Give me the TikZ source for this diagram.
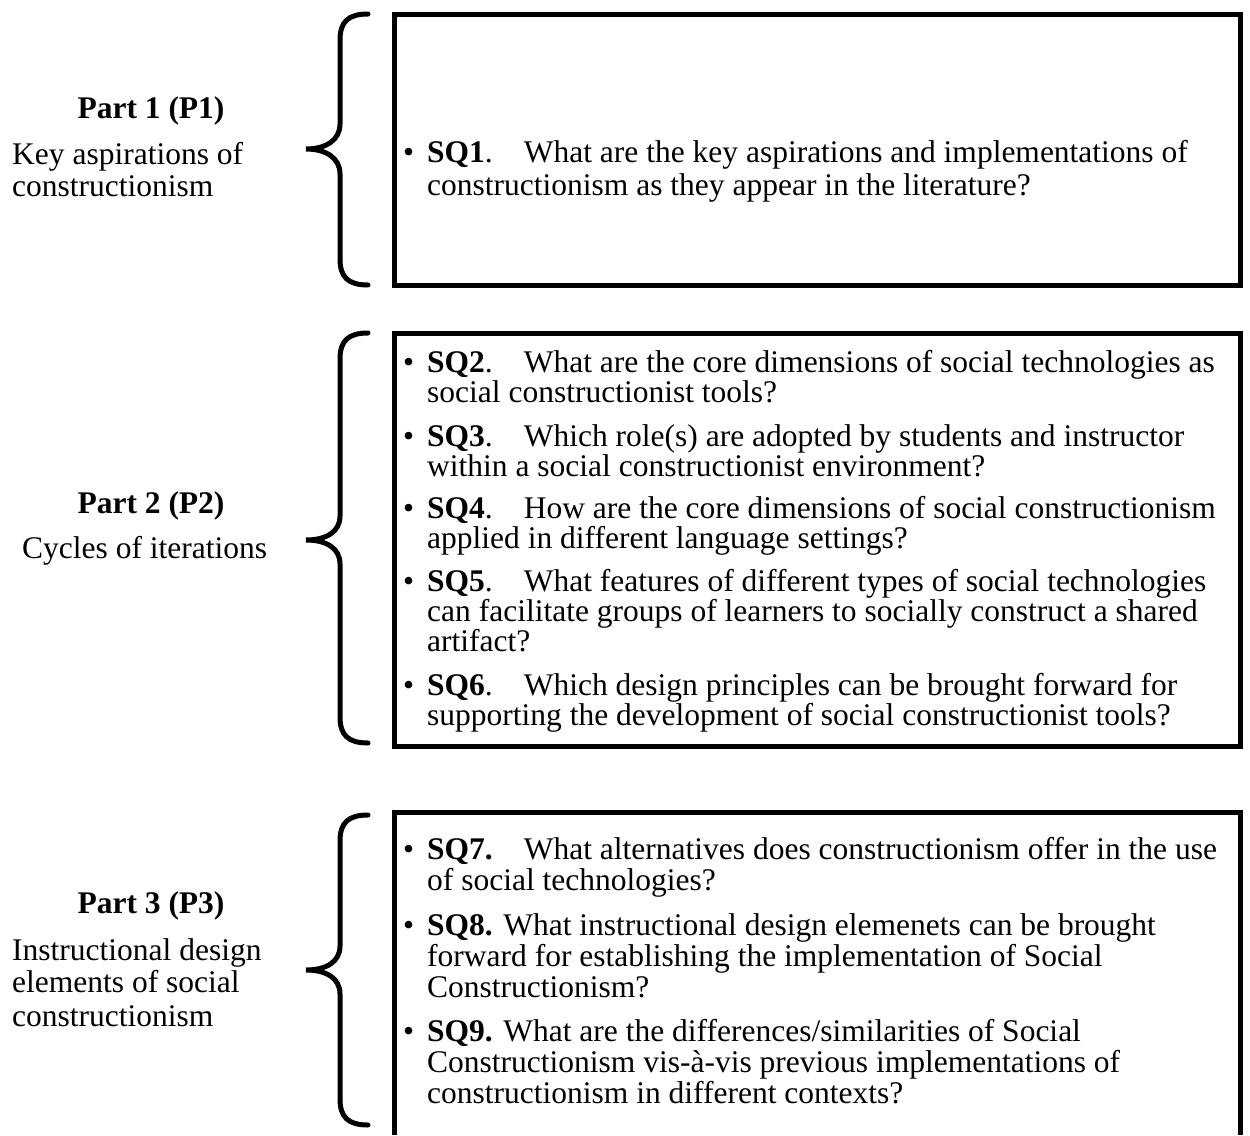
\documentclass[tikz,border=0pt]{standalone}
\usepackage{fontspec}
\setmainfont{Liberation Serif}
\begin{document}
\begin{tikzpicture}[x=1pt,y=-1pt,
  txt/.style={font=\fontsize{31.5}{31}\selectfont, anchor=base west, inner sep=0pt},
  ttl/.style={font=\fontsize{31.5}{31}\selectfont\bfseries, anchor=base, inner sep=0pt},
  frame/.style={line width=5pt, line join=miter},
  brace/.style={line width=5pt, line cap=round}]
\useasboundingbox (0,0) rectangle (1250,1135);

% item helpers: a bullet line and a continuation line
\newcommand{\bul}[3]{\node[txt] (#1b) at (403,#2) {\textbullet}; \node[txt] (#1) at (427,#2) {#3};}
\newcommand{\cont}[3]{\node[txt] (#1) at (427,#2) {#3};}
\newcommand{\gapq}{\hspace{31pt}}

% ---------- frames ----------
\draw[frame] (394,14) rectangle (1240,285);
\draw[frame] (394,333) rectangle (1240,746);
\draw[frame] (394,1135) -- (394,812) -- (1240,812) -- (1240,1135);

% ---------- braces ----------
\draw[brace] (368,14) .. controls (348,14) and (340,22) .. (340,40) -- (340,124)
  .. controls (340,140) and (326,149) .. (306,149)
  .. controls (326,149) and (340,158) .. (340,174) -- (340,259)
  .. controls (340,277) and (348,285) .. (368,285);
\draw[brace] (368,333) .. controls (348,333) and (340,341) .. (340,359) -- (340,516)
  .. controls (340,532) and (326,540) .. (306,540)
  .. controls (326,540) and (340,548) .. (340,564) -- (340,717)
  .. controls (340,735) and (348,743) .. (368,743);
\draw[brace] (368,815) .. controls (348,815) and (340,823) .. (340,841) -- (340,946)
  .. controls (340,962) and (326,970) .. (306,970)
  .. controls (326,970) and (340,978) .. (340,994) -- (340,1099)
  .. controls (340,1117) and (348,1125) .. (368,1125);

% ---------- part labels ----------
\node[ttl] (p1) at (151,118) {Part 1 (P1)};
\node[txt] (p1a) at (12,164) {Key aspirations of};
\node[txt] (p1b) at (12,196) {constructionism};

\node[ttl] (p2) at (151,513) {Part 2 (P2)};
\node[txt] (p2a) at (22,558) {Cycles of iterations};

\node[ttl] (p3) at (151,913) {Part 3 (P3)};
\node[txt] (p3a) at (12,960) {Instructional design};
\node[txt] (p3b) at (12,992) {elements of social};
\node[txt] (p3c) at (12,1026) {constructionism};

% ---------- part 1 questions ----------
\bul{q1}{162}{\textbf{SQ1}.\gapq What are the key aspirations and implementations of}
\cont{q1x}{195}{constructionism as they appear in the literature?}

% ---------- part 2 questions ----------
\bul{q2}{372}{\textbf{SQ2}.\gapq What are the core dimensions of social technologies as}
\cont{q2x}{402}{social constructionist tools?}
\bul{q3}{446}{\textbf{SQ3}.\gapq Which role(s) are adopted by students and instructor}
\cont{q3x}{476}{within a social constructionist environment?}
\bul{q4}{518}{\textbf{SQ4}.\gapq How are the core dimensions of social constructionism}
\cont{q4x}{548}{applied in different language settings?}
\bul{q5}{591}{\textbf{SQ5}.\gapq What features of different types of social technologies}
\cont{q5x}{621}{can facilitate groups of learners to socially construct a shared}
\cont{q5y}{651}{artifact?}
\bul{q6}{695}{\textbf{SQ6}.\gapq Which design principles can be brought forward for}
\cont{q6x}{725}{supporting the development of social constructionist tools?}

% ---------- part 3 questions ----------
\bul{q7}{859}{\textbf{SQ7.}\gapq What alternatives does constructionism offer in the use}
\cont{q7x}{890}{of social technologies?}
\bul{q8}{935}{\textbf{SQ8.} What instructional design elemenets can be brought}
\cont{q8x}{966}{forward for establishing the implementation of Social}
\cont{q8y}{997}{Constructionism?}
\bul{q9}{1041}{\textbf{SQ9.} What are the differences/similarities of Social}
\cont{q9x}{1072}{Constructionism vis-à-vis previous implementations of}
\cont{q9y}{1103}{constructionism in different contexts?}
\end{tikzpicture}
\end{document}
